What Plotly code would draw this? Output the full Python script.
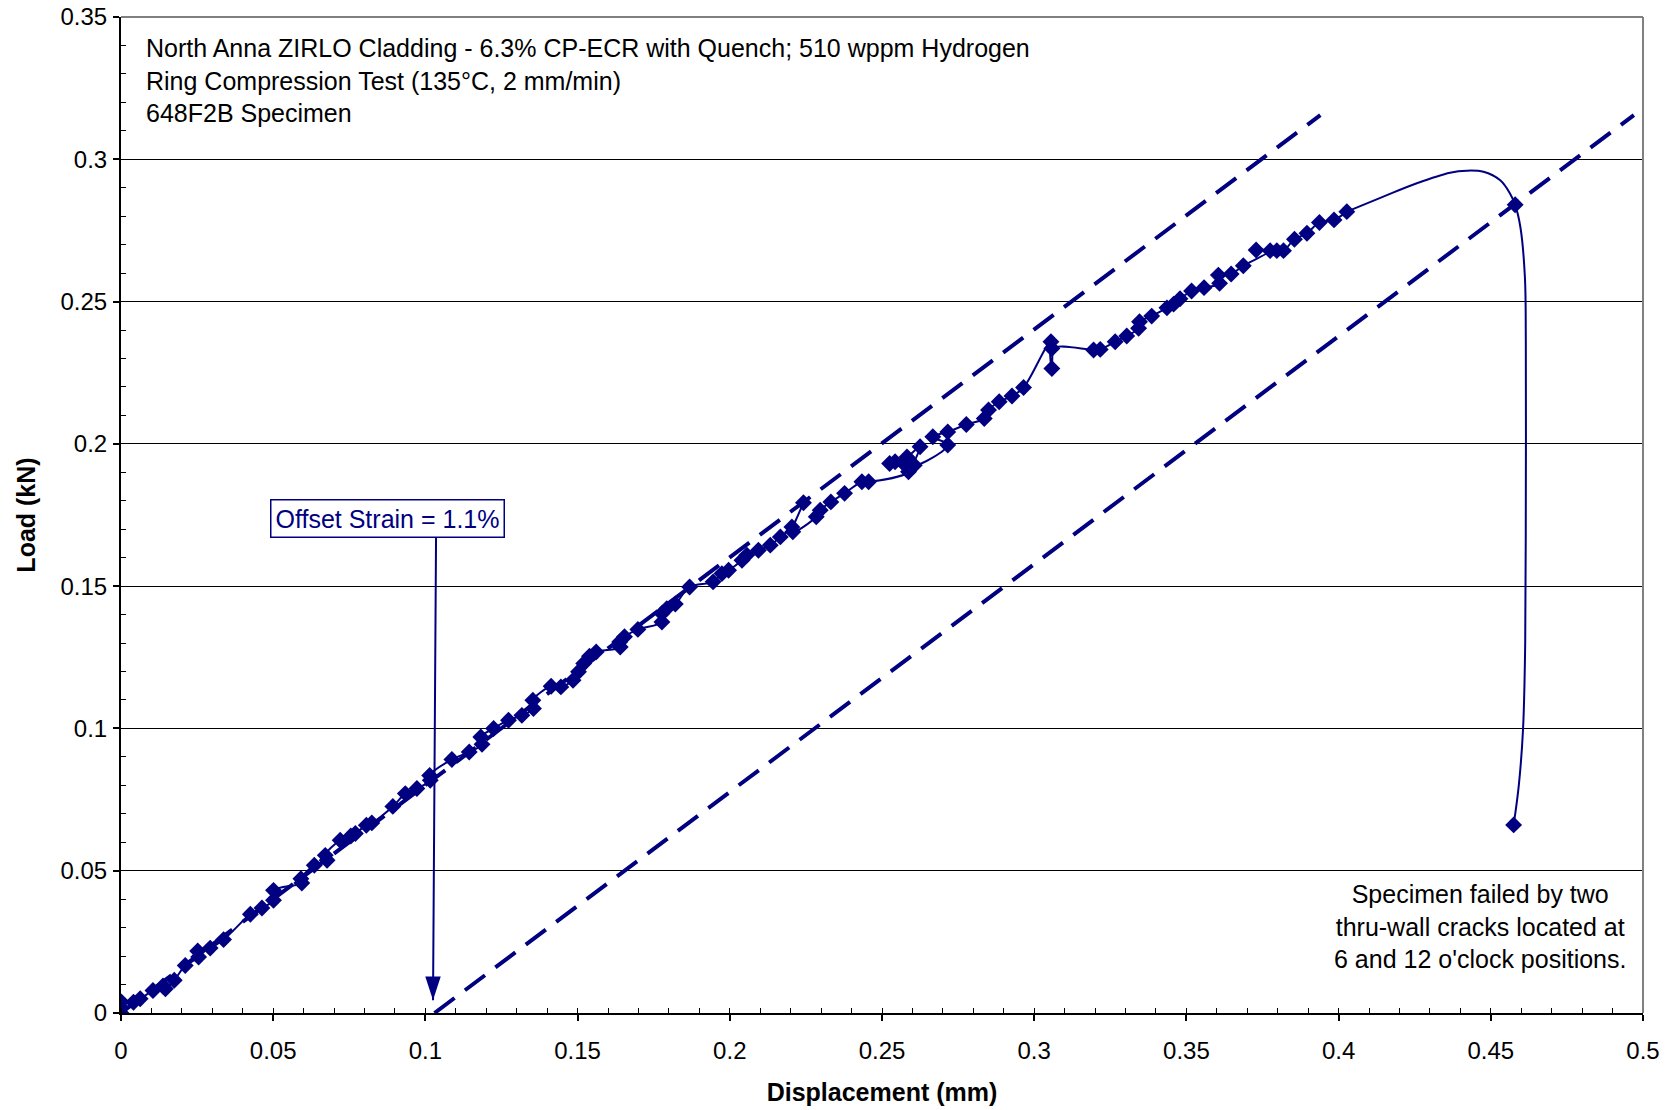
import plotly.graph_objects as go

# ---- data ----
disp_mm = [0.0, 0.0, 0.0, 0.0041, 0.0063, 0.0105, 0.0138, 0.0146, 0.0175, 0.0211,
           0.0255, 0.0252, 0.0293, 0.0337, 0.0425, 0.0463, 0.0501, 0.0501, 0.0594, 0.0591,
           0.0635, 0.0677, 0.0671, 0.0720, 0.0755, 0.0770, 0.0806, 0.0824, 0.0893, 0.0934,
           0.0972, 0.1016, 0.1014, 0.1087, 0.1144, 0.1186, 0.1182, 0.1224, 0.1273, 0.1317,
           0.1355, 0.1353, 0.1413, 0.1445, 0.1485, 0.1503, 0.1520, 0.1539, 0.1561, 0.1640,
           0.1638, 0.1654, 0.1698, 0.1777, 0.1777, 0.1793, 0.1821, 0.1868, 0.1945, 0.1974,
           0.1996, 0.2040, 0.2056, 0.2094, 0.2133, 0.2166, 0.2204, 0.2242, 0.2207, 0.2284,
           0.2297, 0.2332, 0.2377, 0.2434, 0.2456, 0.2587, 0.2571, 0.2525, 0.2543, 0.2582,
           0.2625, 0.2606, 0.2716, 0.2667, 0.2716, 0.2777, 0.2836, 0.2850, 0.2885, 0.2927,
           0.2965, 0.3055, 0.3058, 0.3058, 0.3195, 0.3217, 0.3266, 0.3304, 0.3343, 0.3346,
           0.3386, 0.3436, 0.3458, 0.3479, 0.3517, 0.3558, 0.3609, 0.3605, 0.3647, 0.3687,
           0.3775, 0.3729, 0.3797, 0.3819, 0.3855, 0.3896, 0.3937, 0.3985, 0.4027]
load_kn = [0.0, 0.002, 0.004, 0.0038, 0.0050, 0.0079, 0.0095, 0.0085, 0.0115, 0.0167,
           0.0197, 0.0218, 0.0228, 0.0258, 0.0347, 0.0369, 0.0396, 0.0431, 0.0457, 0.0472,
           0.0519, 0.0537, 0.0554, 0.0607, 0.0622, 0.0631, 0.0660, 0.0668, 0.0726, 0.0771,
           0.0789, 0.0818, 0.0835, 0.0891, 0.0917, 0.0944, 0.0970, 0.1000, 0.1029, 0.1046,
           0.1070, 0.1099, 0.1148, 0.1146, 0.1169, 0.1199, 0.1228, 0.1254, 0.1269, 0.1286,
           0.1304, 0.1322, 0.1348, 0.1374, 0.1404, 0.1421, 0.1437, 0.1497, 0.1515, 0.1544,
           0.1556, 0.1591, 0.1609, 0.1626, 0.1644, 0.1673, 0.1708, 0.1793, 0.1691, 0.1744,
           0.1767, 0.1796, 0.1826, 0.1867, 0.1867, 0.1902, 0.1931, 0.1931, 0.1937, 0.1954,
           0.1990, 0.1925, 0.1996, 0.2025, 0.2042, 0.2068, 0.2089, 0.2119, 0.2148, 0.2168,
           0.2198, 0.2359, 0.2265, 0.2335, 0.2330, 0.2332, 0.2359, 0.2379, 0.2406, 0.2429,
           0.2449, 0.2478, 0.2491, 0.2510, 0.2537, 0.2549, 0.2564, 0.2593, 0.2597, 0.2626,
           0.2679, 0.2681, 0.2679, 0.2679, 0.2719, 0.2740, 0.2778, 0.2787, 0.2816]

# smoothed connecting curve after the last regular reading
tail_disp = [0.4027, 0.4147, 0.4257, 0.4366, 0.4421, 0.4476, 0.4531, 0.4563, 0.4580,
             0.4597, 0.4612, 0.4615, 0.4615, 0.4613, 0.4606, 0.4592, 0.4575]
tail_load = [0.2816, 0.2869, 0.2916, 0.2953, 0.2960, 0.2956, 0.2926, 0.2880, 0.2840,
             0.2763, 0.2587, 0.2365, 0.1800, 0.1300, 0.1000, 0.0800, 0.0661]

# failure readings
fail_disp = [0.4580, 0.4575]
fail_load = [0.2840, 0.0661]

elastic_x = [0.0, 0.394]
elastic_y = [0.0, 0.3155]
offset_x = [0.103, 0.497]
offset_y = [0.0, 0.3155]

arrow_tip = (0.1025, 0.0045)
arrow_tail = (0.1035, 0.1675)
box_pos = (0.0874, 0.1739)
note_pos = (0.4463, 0.0304)

x_ticks = [0, 0.05, 0.1, 0.15, 0.2, 0.25, 0.3, 0.35, 0.4, 0.45, 0.5]
y_ticks = [0, 0.05, 0.1, 0.15, 0.2, 0.25, 0.3, 0.35]

NAVY = "#000080"
FONT = "Arial, Liberation Sans, sans-serif"

fig = go.Figure()

fig.add_trace(go.Scatter(
    x=elastic_x, y=elastic_y, mode="lines",
    line=dict(color=NAVY, width=4, dash="25px,13px"), hoverinfo="skip"))
fig.add_trace(go.Scatter(
    x=offset_x, y=offset_y, mode="lines",
    line=dict(color=NAVY, width=4, dash="25px,13px"), hoverinfo="skip"))

fig.add_trace(go.Scatter(
    x=tail_disp, y=tail_load, mode="lines",
    line=dict(color=NAVY, width=2, shape="spline", smoothing=1.0)))

fig.add_trace(go.Scatter(
    x=disp_mm, y=load_kn, mode="lines+markers",
    line=dict(color=NAVY, width=2, shape="spline", smoothing=1.0),
    marker=dict(symbol="diamond", size=13, color=NAVY)))

fig.add_trace(go.Scatter(
    x=fail_disp, y=fail_load, mode="markers",
    marker=dict(symbol="diamond", size=13, color=NAVY)))

# arrow shaft (annotation) and narrow arrow head (marker at the tip)
fig.add_annotation(
    x=arrow_tip[0], y=arrow_tip[1], ax=arrow_tail[0], ay=arrow_tail[1],
    xref="x", yref="y", axref="x", ayref="y", text="", showarrow=True,
    arrowhead=0, arrowwidth=2, arrowcolor=NAVY)
fig.add_trace(go.Scatter(
    x=[arrow_tip[0]], y=[arrow_tip[1]], mode="markers",
    marker=dict(symbol="arrow", angle=180, size=25, color=NAVY, line=dict(width=0)),
    hoverinfo="skip"))

fig.add_annotation(
    xref="paper", yref="paper", x=0.0148, y=0.985, xanchor="left", yanchor="top",
    align="left", showarrow=False,
    text="North Anna ZIRLO Cladding - 6.3% CP-ECR with Quench; 510 wppm Hydrogen<br>"
         "Ring Compression Test (135°C, 2 mm/min)<br>648F2B Specimen",
    font=dict(family=FONT, size=25, color="black"))

fig.add_annotation(
    x=box_pos[0], y=box_pos[1], xref="x", yref="y", showarrow=False,
    text="Offset Strain = 1.1%", bordercolor=NAVY, borderwidth=1.5, borderpad=4,
    bgcolor="white", font=dict(family=FONT, size=25, color=NAVY))

fig.add_annotation(
    x=note_pos[0], y=note_pos[1], xref="x", yref="y", showarrow=False,
    align="center", xanchor="center", yanchor="middle",
    text="Specimen failed by two<br>thru-wall cracks located at<br>6 and 12 o'clock positions.",
    font=dict(family=FONT, size=25, color="black"))

# gray top and right frame
fig.add_shape(type="line", xref="paper", yref="paper", x0=0, x1=1, y0=1, y1=1,
              line=dict(color="#808080", width=2))
fig.add_shape(type="line", xref="paper", yref="paper", x0=1, x1=1, y0=0, y1=1,
              line=dict(color="#808080", width=2))

fig.update_layout(
    width=1675, height=1110,
    margin=dict(l=121, r=32, t=17, b=97),
    paper_bgcolor="white", plot_bgcolor="white",
    showlegend=False,
    font=dict(family=FONT, size=24, color="black"),
    xaxis=dict(
        range=[0, 0.5], tickvals=x_ticks, ticktext=[f"{v:g}" for v in x_ticks],
        automargin=False,
        showgrid=False, zeroline=False,
        showline=True, linecolor="black", linewidth=2,
        ticks="outside", ticklen=6, tickcolor="black", tickwidth=1.5,
        minor=dict(dtick=0.01, ticks="inside", ticklen=5, tickcolor="black", tickwidth=1.2, showgrid=False),
        ticklabelstandoff=9,
        tickfont=dict(family=FONT, size=24),
        title=dict(text="<b>Displacement (mm)</b>", font=dict(family=FONT, size=25), standoff=21),
    ),
    yaxis=dict(
        range=[0, 0.35], tickvals=y_ticks, ticktext=[f"{v:g}" for v in y_ticks],
        automargin=False,
        showgrid=True, gridcolor="black", gridwidth=1,
        zeroline=False,
        showline=True, linecolor="black", linewidth=2,
        ticks="outside", ticklen=6, tickcolor="black", tickwidth=1.5,
        minor=dict(dtick=0.01, ticks="inside", ticklen=5, tickcolor="black", tickwidth=1.2, showgrid=False),
        ticklabelstandoff=1,
        tickfont=dict(family=FONT, size=24),
        title=dict(text="<b>Load (kN)</b>", font=dict(family=FONT, size=25), standoff=18),
    ),
)

fig.write_html("out.html")
